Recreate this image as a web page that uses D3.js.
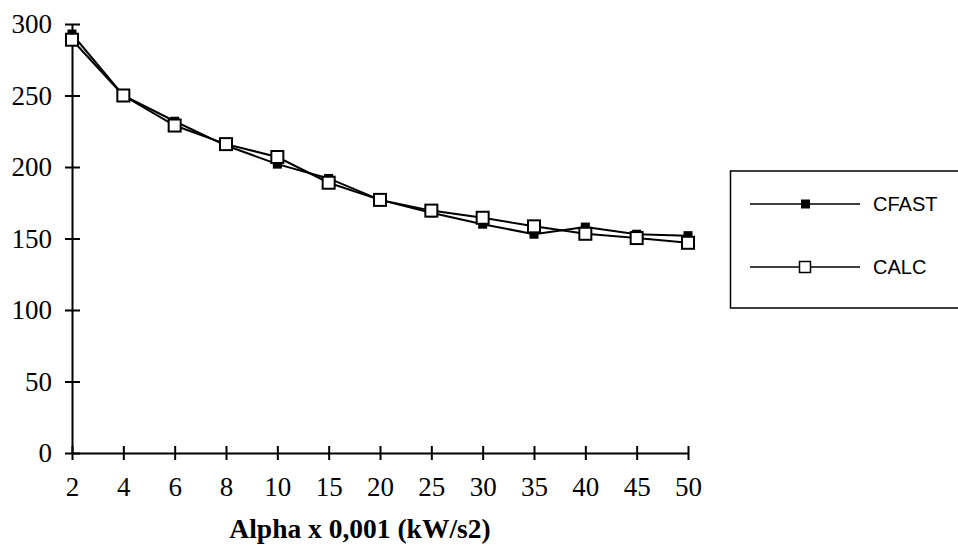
<!DOCTYPE html>
<html>
<head>
  <meta charset="UTF-8">
  <title>CFAST vs CALC</title>
  <script src="https://d3js.org/d3.v7.min.js"></script>
  <style>
    body {
      margin: 0;
      padding: 0;
      background-color: #ffffff;
    }
    .axis text {
      font-family: 'Liberation Serif', 'Times New Roman', serif;
      font-size: 27px;
      fill: #000;
    }
    .axis path, .axis line {
      stroke: #000;
      stroke-width: 2px;
    }
    .legend text {
      font-family: 'Liberation Sans', Arial, sans-serif;
      font-size: 20px;
      fill: #000;
    }
  </style>
</head>
<body>
  <svg id="chart"></svg>
  <script>
    const alphas = ["2", "4", "6", "8", "10", "15", "20", "25", "30", "35", "40", "45", "50"];
    const cfast = [293, 250, 232, 215, 202, 192, 177, 168, 160, 153, 158, 153, 152];
    const calc = [289, 250, 229, 216, 207, 189, 177, 169.5, 164.5, 158.5, 153.3, 150.3, 147];
    const yTicks = [0, 50, 100, 150, 200, 250, 300];

    const W = 958, H = 547;
    const svg = d3.select("#chart").attr("width", W).attr("height", H);

    const x = d3.scalePoint().domain(alphas).range([72, 688]);
    const y = d3.scaleLinear().domain([0, 300]).range([453, 24]);

    // y axis, ticks cross the line
    const gy = svg.append("g")
      .attr("class", "axis")
      .attr("transform", "translate(72,0)")
      .call(d3.axisLeft(y).tickValues(yTicks).tickSize(7).tickSizeOuter(0).tickPadding(13));
    gy.selectAll(".tick line").attr("x1", 8);

    const gx = svg.append("g")
      .attr("class", "axis")
      .attr("transform", "translate(0,453)")
      .call(d3.axisBottom(x).tickSize(7).tickSizeOuter(0).tickPadding(17));
    gx.selectAll(".tick line").attr("y1", -7);

    svg.append("text")
      .attr("x", 360)
      .attr("y", 538)
      .attr("text-anchor", "middle")
      .style("font-family", "'Liberation Serif', 'Times New Roman', serif")
      .style("font-size", "27.5px")
      .style("font-weight", "bold")
      .text("Alpha x 0,001 (kW/s2)");

    const line = d3.line()
      .x(function(d, i) { return x(alphas[i]); })
      .y(function(d) { return y(d); });

    // CFAST: line + filled squares
    svg.append("path")
      .datum(cfast)
      .attr("fill", "none")
      .attr("stroke", "#000")
      .attr("stroke-width", 2)
      .attr("d", line);

    svg.selectAll(".cfast")
      .data(cfast)
      .enter().append("rect")
      .attr("class", "cfast")
      .attr("x", function(d, i) { return x(alphas[i]) - 4.5; })
      .attr("y", function(d) { return y(d) - 4.5; })
      .attr("width", 9)
      .attr("height", 9)
      .attr("fill", "#000");

    // CALC: line + open squares
    svg.append("path")
      .datum(calc)
      .attr("fill", "none")
      .attr("stroke", "#000")
      .attr("stroke-width", 2)
      .attr("d", line);

    svg.selectAll(".calc")
      .data(calc)
      .enter().append("rect")
      .attr("class", "calc")
      .attr("x", function(d, i) { return x(alphas[i]) - 6; })
      .attr("y", function(d) { return y(d) - 6; })
      .attr("width", 12)
      .attr("height", 12)
      .attr("fill", "#fff")
      .attr("stroke", "#000")
      .attr("stroke-width", 2);

    // legend
    const lg = svg.append("g").attr("class", "legend");
    lg.append("rect")
      .attr("x", 730.5).attr("y", 171)
      .attr("width", 240).attr("height", 137)
      .attr("fill", "none")
      .attr("stroke", "#000")
      .attr("stroke-width", 1.5);

    const items = [{ name: "CFAST", y: 204 }, { name: "CALC", y: 267 }];
    items.forEach(function(it, i) {
      lg.append("line")
        .attr("x1", 750).attr("x2", 860)
        .attr("y1", it.y).attr("y2", it.y)
        .attr("stroke", "#000").attr("stroke-width", 1.5);
      if (i === 0) {
        lg.append("rect")
          .attr("x", 801).attr("y", it.y - 4.5)
          .attr("width", 9).attr("height", 9)
          .attr("fill", "#000");
      } else {
        lg.append("rect")
          .attr("x", 799.5).attr("y", it.y - 5.5)
          .attr("width", 11).attr("height", 11)
          .attr("fill", "#fff").attr("stroke", "#000").attr("stroke-width", 1.5);
      }
      lg.append("text")
        .attr("x", 873)
        .attr("y", it.y)
        .attr("dy", "0.36em")
        .text(it.name);
    });
  </script>
</body>
</html>
